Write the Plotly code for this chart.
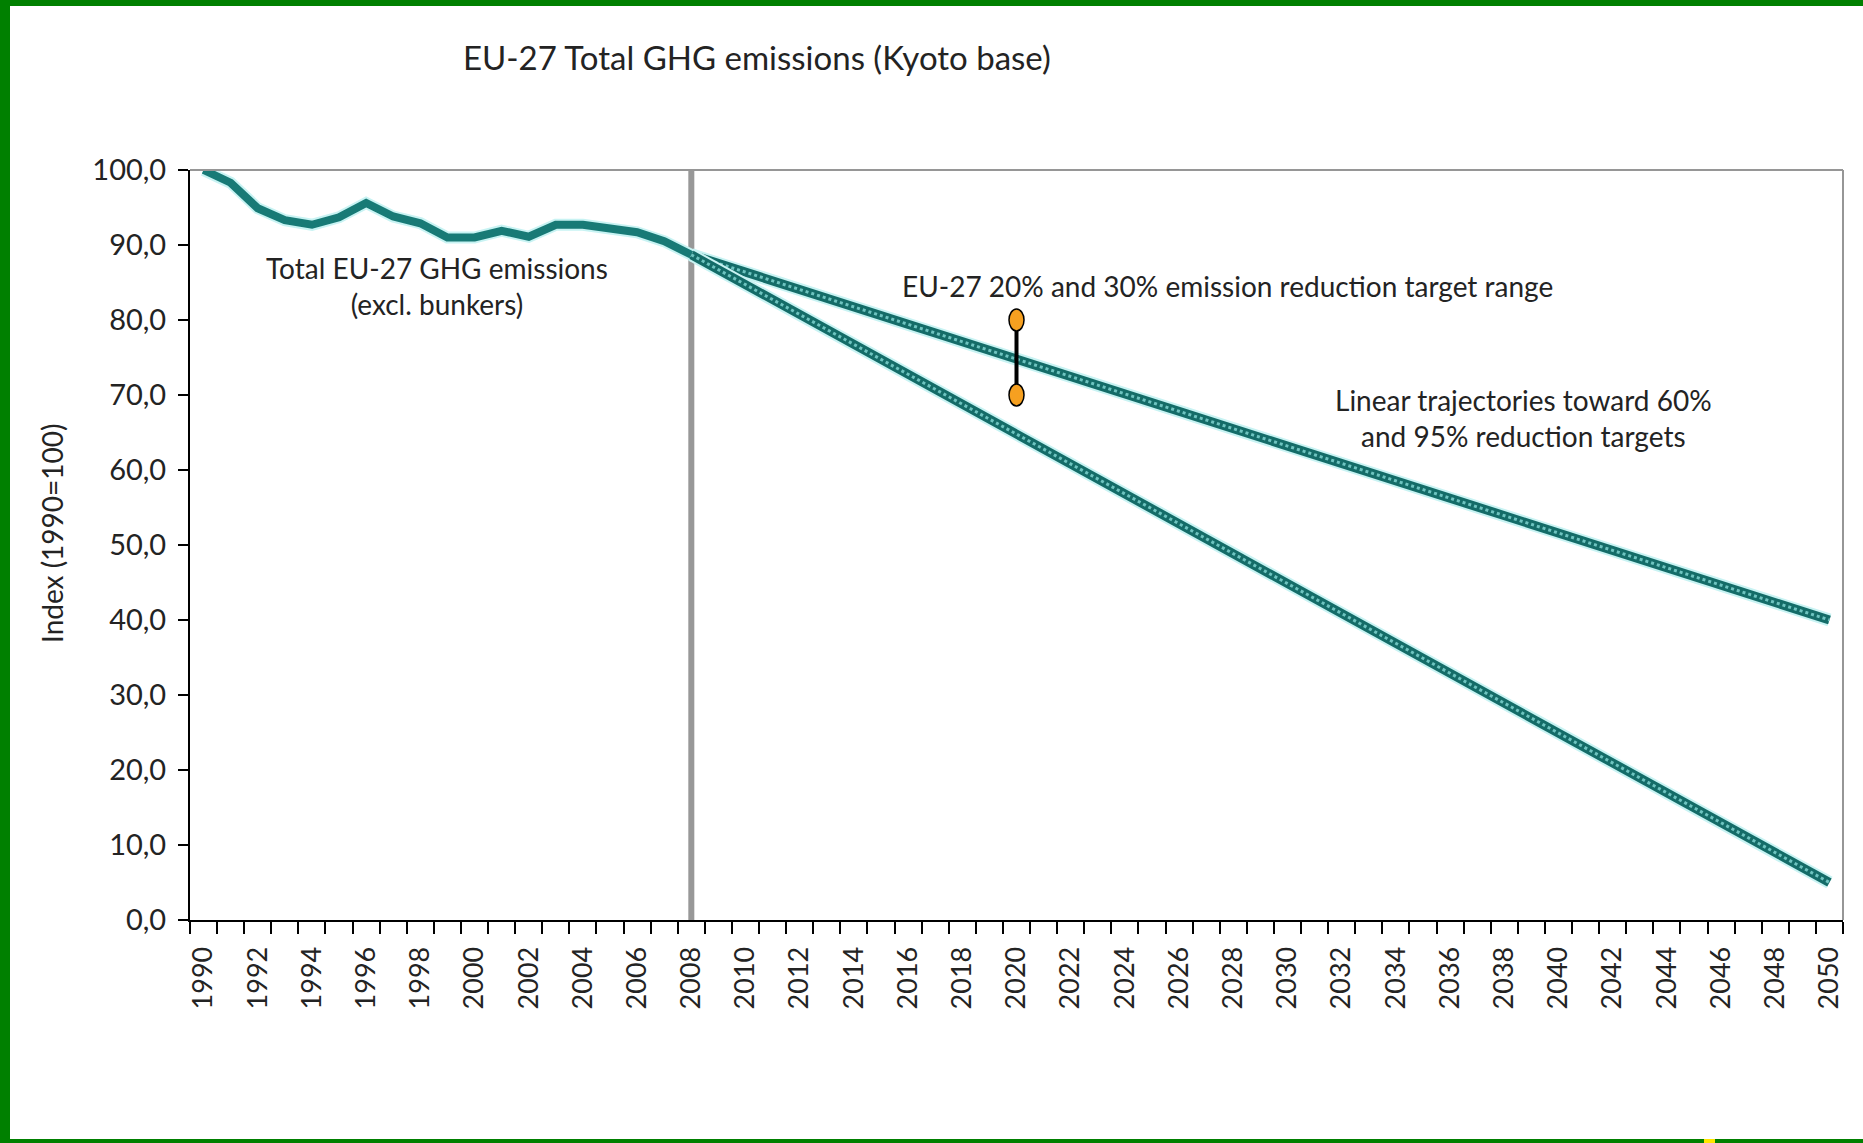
import plotly.graph_objects as go

# Historical emissions index (1990 = 100), EU-27 excl. bunkers
hist_years = list(range(1990, 2009))
hist_index = [100.0, 98.3, 94.9, 93.3, 92.7, 93.7, 95.6, 93.8, 92.9, 91.0,
              91.0, 91.9, 91.1, 92.7, 92.7, 92.1, 91.7, 90.5, 88.7]

# Linear trajectories from 2008 toward the 2050 targets (60% and 95% cuts)
traj_years = [2008, 2050]
traj_60 = [88.7, 40.0]
traj_95 = [88.7, 5.0]

# 2020 target range: 20% and 30% reductions
target_year = 2020
target_range = [80.0, 70.0]

# Year separating history from projections
split_year = 2008

all_years = list(range(1990, 2051))
x_tick_years = all_years[::2]
y_ticks = [0, 10, 20, 30, 40, 50, 60, 70, 80, 90, 100]

W, H = 1863, 1143
ML, MR, MT, MB = 190, 20, 170, 223
PW, PH = W - ML - MR, H - MT - MB

TEAL = "rgb(24,122,118)"
HALO = "rgb(200,243,243)"
TXT = "rgb(35,35,35)"
FONT = "Lato, 'Open Sans', sans-serif"


def px_x(px):
    return (px - ML) / PW


def px_y(py):
    return 1 - (py - MT) / PH


fig = go.Figure()

# divider between observed and projected years
fig.add_trace(go.Scatter(x=[split_year, split_year], y=[0, 100], mode="lines",
                         line=dict(color="rgb(152,152,152)", width=6),
                         hoverinfo="skip", cliponaxis=False))

# projected trajectories: halo, body and a dotted highlight for the beaded look
for vals in (traj_60, traj_95):
    fig.add_trace(go.Scatter(x=traj_years, y=vals, mode="lines",
                             line=dict(color=HALO, width=13), hoverinfo="skip",
                             cliponaxis=False))
    fig.add_trace(go.Scatter(x=traj_years, y=vals, mode="lines",
                             line=dict(color="rgb(20,108,104)", width=9),
                             cliponaxis=False))
    fig.add_trace(go.Scatter(x=traj_years, y=vals, mode="lines",
                             line=dict(color="rgb(110,196,192)", width=3, dash="dot"),
                             hoverinfo="skip", cliponaxis=False))

# historical series
fig.add_trace(go.Scatter(x=hist_years, y=hist_index, mode="lines",
                         line=dict(color=HALO, width=12), hoverinfo="skip",
                         cliponaxis=False))
fig.add_trace(go.Scatter(x=hist_years, y=hist_index, mode="lines",
                         line=dict(color=TEAL, width=8), cliponaxis=False))

# target range bar
fig.add_trace(go.Scatter(x=[target_year, target_year], y=target_range, mode="lines",
                         line=dict(color="black", width=4), cliponaxis=False))

shapes = []
# elliptical end markers of the target range
for v in target_range:
    shapes.append(dict(type="circle", xref="x", yref="y",
                       xsizemode="pixel", ysizemode="pixel",
                       xanchor=target_year, yanchor=v,
                       x0=-7.5, x1=7.5, y0=-11, y1=11,
                       fillcolor="rgb(246,160,32)",
                       line=dict(color="black", width=1.5), layer="above"))

# grey top and right frame of the plot area
shapes.append(dict(type="line", xref="x domain", yref="y domain", x0=0, x1=1, y0=1, y1=1,
                   line=dict(color="rgb(150,150,150)", width=2)))
shapes.append(dict(type="line", xref="x domain", yref="y domain", x0=1, x1=1, y0=0, y1=1,
                   line=dict(color="rgb(150,150,150)", width=2)))

# green slide border (left, top, bottom) and the small yellow mark
GREEN = "rgb(0,128,0)"
shapes.append(dict(type="rect", xref="paper", yref="paper", x0=px_x(0), x1=px_x(10),
                   y0=px_y(H), y1=px_y(0), fillcolor=GREEN, line=dict(width=0)))
shapes.append(dict(type="rect", xref="paper", yref="paper", x0=px_x(0), x1=px_x(W),
                   y0=px_y(6), y1=px_y(0), fillcolor=GREEN, line=dict(width=0)))
shapes.append(dict(type="rect", xref="paper", yref="paper", x0=px_x(0), x1=px_x(W),
                   y0=px_y(H), y1=px_y(H - 4), fillcolor=GREEN, line=dict(width=0)))
shapes.append(dict(type="rect", xref="paper", yref="paper", x0=px_x(1704), x1=px_x(1715),
                   y0=px_y(H), y1=px_y(H - 4), fillcolor="rgb(255,230,0)", line=dict(width=0)))

annotations = [
    dict(text="EU-27 Total GHG emissions (Kyoto base)", xref="paper", yref="paper",
         x=px_x(757), y=px_y(57), showarrow=False, xanchor="center", yanchor="middle",
         font=dict(size=33, color=TXT)),
    dict(text="Index (1990=100)", xref="paper", yref="paper",
         x=px_x(52), y=px_y(533), showarrow=False, textangle=-90,
         xanchor="center", yanchor="middle", font=dict(size=28, color=TXT)),
    dict(text="Total EU-27 GHG emissions<br>(excl. bunkers)", xref="x", yref="y",
         x=1998.6, y=84.6, showarrow=False, xanchor="center", yanchor="middle",
         font=dict(size=28, color=TXT)),
    dict(text="EU-27 20% and 30% emission reduction target range", xref="x", yref="y",
         x=2027.8, y=84.6, showarrow=False, xanchor="center", yanchor="middle",
         font=dict(size=28, color=TXT)),
    dict(text="Linear trajectories toward 60%<br>and 95% reduction targets", xref="x", yref="y",
         x=2038.7, y=66.9, showarrow=False, xanchor="center", yanchor="middle",
         font=dict(size=28, color=TXT)),
]

fig.update_layout(
    width=W, height=H,
    margin=dict(l=ML, r=MR, t=MT, b=MB, pad=0),
    paper_bgcolor="white", plot_bgcolor="white",
    showlegend=False,
    separators=", ",
    font=dict(family=FONT, color=TXT),
    shapes=shapes,
    annotations=annotations,
    xaxis=dict(
        range=[1989.5, 2050.5], tickmode="array", tickvals=x_tick_years,
        ticktext=[str(y) for y in x_tick_years], tickangle=-90,
        ticks="outside", ticklen=14, tickcolor="rgba(0,0,0,0)",
        tickfont=dict(size=27, color=TXT),
        minor=dict(tickmode="linear", tick0=1989.5, dtick=1, ticks="outside",
                   ticklen=12, tickcolor="black", tickwidth=1.5, showgrid=False),
        showline=True, linecolor="black", linewidth=2,
        showgrid=False, zeroline=False, fixedrange=True,
    ),
    yaxis=dict(
        range=[0, 100], tickmode="array", tickvals=y_ticks, tickformat=".1f",
        ticks="outside", ticklen=10, tickcolor="black", tickwidth=1.5,
        ticklabelstandoff=6,
        tickfont=dict(size=29, color=TXT),
        showline=True, linecolor="black", linewidth=2,
        showgrid=False, zeroline=False, fixedrange=True,
    ),
)

fig.write_html("out.html")
